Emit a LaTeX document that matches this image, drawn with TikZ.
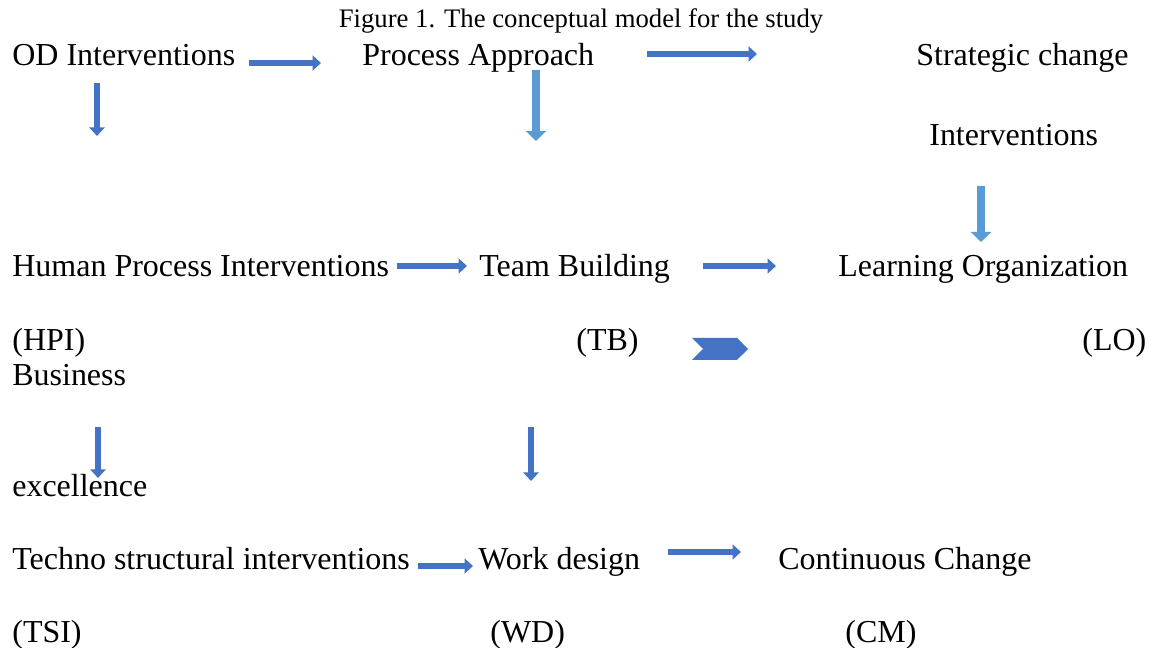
\documentclass[tikz,border=0pt]{standalone}
\usepackage{fontspec}
\setmainfont{Liberation Serif}
\usepackage{xcolor}
\usetikzlibrary{arrows.meta,shapes.symbols}
\definecolor{darkblue}{HTML}{4472C4}
\definecolor{lightblue}{HTML}{5B9BD5}
\tikzstyle{txt} = [inner sep=0pt,anchor=base west,font=\fontsize{18.2}{20}\selectfont]
\tikzstyle{arrow} = [darkblue,line width=0.11cm,-{Triangle[width=0.3cm,length=0.17cm]}]
\tikzstyle{lightarrow} = [arrow,lightblue,line width=0.15cm,-{Triangle[width=0.4cm,length=0.2cm]}]

\begin{document}
\begin{tikzpicture}[x=0.2mm,y=-0.2mm]
            \useasboundingbox (0,0) rectangle (1154,648);
            % basics
            \node[inner sep=0pt,anchor=base,font=\fontsize{15.2}{17}\selectfont] (title) at (581,28) {Figure 1. The conceptual model for the study};
            \node[txt] (od) at (12,66) {OD Interventions};
            \node[txt] (pa) at (362,66) {Process Approach};
            \node[txt] (sc) at (916,66) {Strategic change};
            \node[txt] (sci) at (929,146) {Interventions};
            \node[txt] (hpi) at (12,277) {Human Process Interventions};
            \node[txt] (tb) at (479,277) {Team Building};
            \node[txt] (lo) at (838,277) {Learning Organization};
            \node[txt] (hpia) at (12,351) {(HPI)};
            \node[txt] (tba) at (576,351) {(TB)};
            \node[txt] (loa) at (1082,351) {(LO)};
            \node[txt] (be) at (12,386) {Business};
            \node[txt] (bex) at (12,497) {excellence};
            \node[txt] (tsi) at (12,570) {Techno structural interventions};
            \node[txt] (wd) at (478,570) {Work design};
            \node[txt] (cc) at (778,570) {Continuous Change};
            \node[txt] (tsia) at (12,643) {(TSI)};
            \node[txt] (wda) at (490,643) {(WD)};
            \node[txt] (cca) at (845,643) {(CM)};
            \node[signal,signal from=west,signal to=east,fill=darkblue,inner sep=0pt,minimum width=1.12cm,minimum height=0.44cm] (chev) at (720,349) {};
            % arrow ends
            \coordinate (a1) at (249,63); \coordinate (b1) at (321,63);
            \coordinate (a2) at (647,54); \coordinate (b2) at (757,54);
            \coordinate (a3) at (97,83); \coordinate (b3) at (97,136);
            \coordinate (a4) at (536,70); \coordinate (b4) at (536,141);
            \coordinate (a5) at (981,186); \coordinate (b5) at (981,242);
            \coordinate (a6) at (397,266); \coordinate (b6) at (467,266);
            \coordinate (a7) at (703,266); \coordinate (b7) at (776,266);
            \coordinate (a8) at (98,427); \coordinate (b8) at (98,478);
            \coordinate (a9) at (531,427); \coordinate (b9) at (531,481);
            \coordinate (a10) at (418,566); \coordinate (b10) at (473,566);
            \coordinate (a11) at (668,552); \coordinate (b11) at (741,552);
            \draw[arrow] (a1) -- (b1);
            \draw[arrow] (a2) -- (b2);
            \draw[arrow] (a3) -- (b3);
            \draw[lightarrow] (a4) -- (b4);
            \draw[lightarrow] (a5) -- (b5);
            \draw[arrow] (a6) -- (b6);
            \draw[arrow] (a7) -- (b7);
            \draw[arrow] (a8) -- (b8);
            \draw[arrow] (a9) -- (b9);
            \draw[arrow] (a10) -- (b10);
            \draw[arrow] (a11) -- (b11);
        \end{tikzpicture}
\end{document}
